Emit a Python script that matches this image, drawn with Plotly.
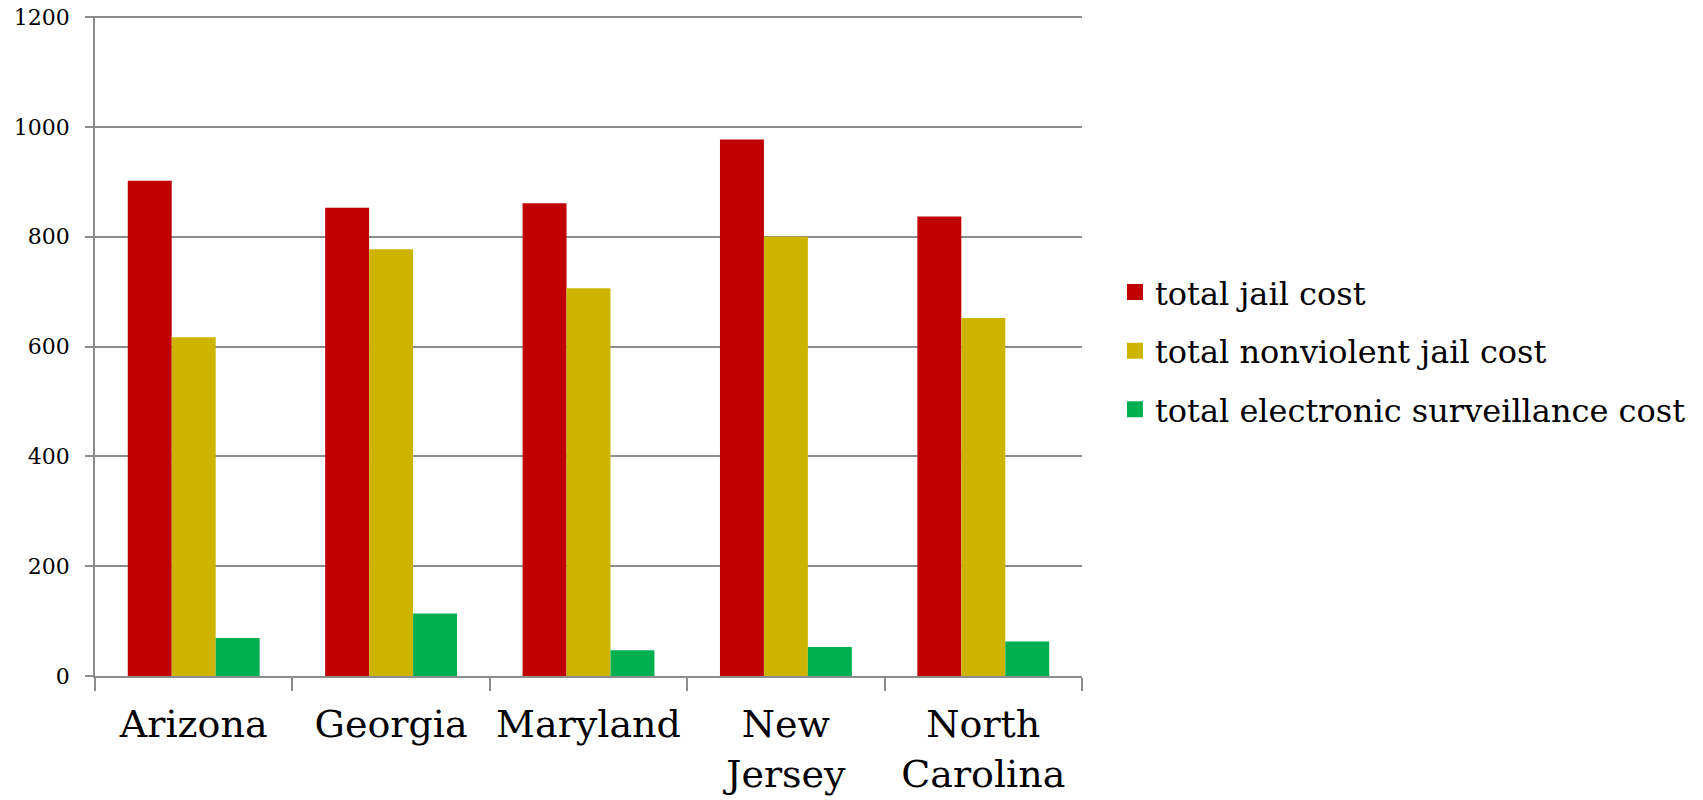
import plotly.graph_objects as go

states = ["Arizona", "Georgia", "Maryland", "New<br>Jersey", "North<br>Carolina"]
series_names = ["total jail cost", "total nonviolent jail cost", "total electronic surveillance cost"]
total_jail = [902, 853, 861, 977, 837]
nonviolent_jail = [617, 777, 706, 800, 652]
electronic = [69, 114, 47, 53, 63]
y_ticks = [0, 200, 400, 600, 800, 1000, 1200]

colors = ["#C00000", "#CDB400", "#00B050"]
values = [total_jail, nonviolent_jail, electronic]

FONT = "DejaVu Serif"
GRID = "#8c8c8c"

fig = go.Figure()
for name, vals, col in zip(series_names, values, colors):
    fig.add_trace(go.Bar(
        x=states, y=vals, name=name, marker=dict(color=col, line=dict(width=0)),
        showlegend=False, legendgroup=name,
    ))
for name, col in zip(series_names, colors):
    fig.add_trace(go.Scatter(
        x=[None], y=[None], mode="markers", name=name, legendgroup=name,
        marker=dict(symbol="square", size=20, color=col), hoverinfo="skip",
    ))

fig.update_layout(
    width=1703, height=800,
    margin=dict(l=87, r=629, t=8, b=132, autoexpand=False),
    paper_bgcolor="white", plot_bgcolor="white",
    barmode="group", bargap=0.332, bargroupgap=0,
    font=dict(family=FONT, color="black"),
    legend=dict(
        xref="container", yref="container",
        x=0.650, y=0.5715, xanchor="left", yanchor="middle",
        font=dict(family=FONT, size=32, color="black"),
        tracegroupgap=14, itemsizing="trace",
    ),
    xaxis=dict(
        type="category", showline=True, linecolor=GRID, linewidth=1.5,
        ticks="outside", tickson="boundaries", ticklen=13, tickcolor=GRID, tickwidth=1.5,
        tickfont=dict(family=FONT, size=38, color="black"), showgrid=False,
        automargin=False, ticklabelstandoff=14, ticklabeloverflow="allow",
    ),
    yaxis=dict(
        range=[0, 1202], tickvals=y_ticks, showline=True, linecolor=GRID, linewidth=1.5,
        ticks="outside", ticklen=8, tickcolor=GRID, tickwidth=1.5,
        showgrid=True, gridcolor=GRID, gridwidth=1.5, zeroline=False,
        tickfont=dict(family=FONT, size=22, color="black"), ticklabelstandoff=11,
        automargin=False, ticklabeloverflow="allow",
    ),
)

fig.write_html("out.html")
